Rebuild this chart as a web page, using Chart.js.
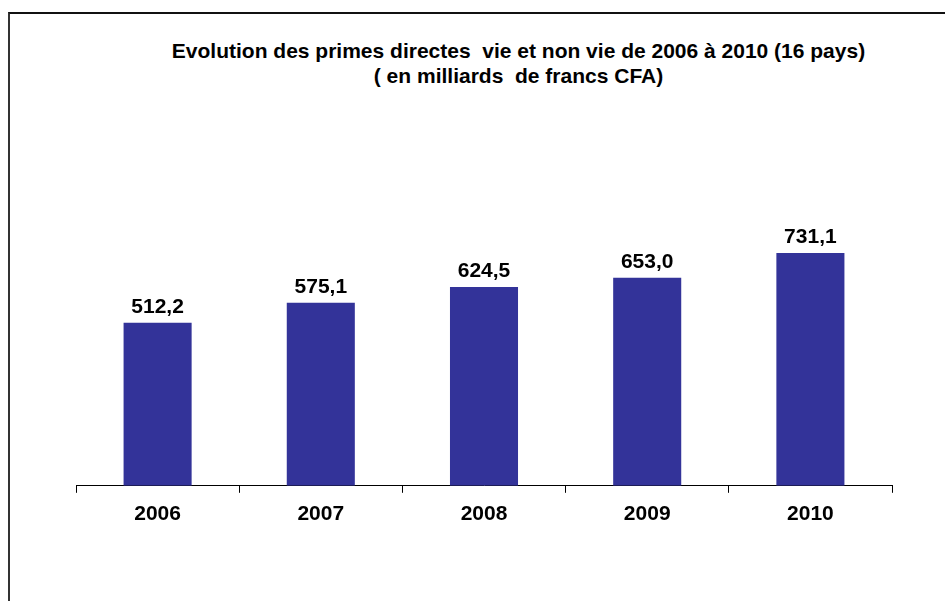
<!DOCTYPE html>
<html>
<head>
<meta charset="utf-8">
<script src="https://cdn.jsdelivr.net/npm/chart.js@4/dist/chart.umd.min.js"></script>
<style>
    body { margin: 0; background: #fff; }
    #wrap { position: relative; width: 945px; height: 601px; overflow: hidden; background: #fff; }
    #frame { position: absolute; left: 8px; top: 12px; right: -10px; bottom: -10px; border-top: 2px solid #111; border-left: 2px solid #333; }
    #title { position: absolute; left: 0; width: 1037px; top: 38px; text-align: center; font: bold 21px "Liberation Sans", Arial, sans-serif; line-height: 25px; color: #000; white-space: pre; }
    #chart { position: absolute; left: 0; top: 0; }
</style>
</head>
<body>
<div id="wrap">
    <div id="frame"></div>
    <div id="title">Evolution des primes directes  vie et non vie de 2006 à 2010 (16 pays)
( en milliards  de francs CFA)</div>
    <canvas id="chart" width="945" height="601"></canvas>
</div>
<script>
// data
const years = ['2006', '2007', '2008', '2009', '2010'];
const primes = [512.2, 575.1, 624.5, 653.0, 731.1];

// value labels above the bars
const valueLabels = {
    id: 'valueLabels',
    afterDatasetsDraw(chart) {
        const ctx = chart.ctx;
        const meta = chart.getDatasetMeta(0);
        ctx.save();
        ctx.font = 'bold 21px "Liberation Sans", Arial, sans-serif';
        ctx.fillStyle = '#000';
        ctx.textAlign = 'center';
        ctx.textBaseline = 'alphabetic';
        meta.data.forEach((bar, i) => {
            const txt = primes[i].toFixed(1).replace('.', ',');
            ctx.fillText(txt, bar.x, bar.y - 10);
        });
        ctx.restore();
    }
};

new Chart(document.getElementById('chart').getContext('2d'), {
    type: 'bar',
    data: {
        labels: years,
        datasets: [{
            data: primes,
            backgroundColor: '#333399',
            borderWidth: 0,
            barPercentage: 0.417,
            categoryPercentage: 1
        }]
    },
    options: {
        responsive: false,
        animation: false,
        layout: { padding: { left: 76, right: 53, top: 231, bottom: 65 } },
        plugins: {
            legend: { display: false },
            tooltip: { enabled: false }
        },
        scales: {
            y: { display: false, min: 0, max: 800 },
            x: {
                grid: { drawOnChartArea: false, drawTicks: true, tickLength: 7, color: '#000', offset: true },
                border: { display: true, color: '#000', width: 1 },
                ticks: {
                    color: '#000',
                    padding: 9,
                    font: { family: '"Liberation Sans", Arial, sans-serif', size: 21, weight: 'bold' }
                }
            }
        }
    },
    plugins: [valueLabels]
});
</script>
</body>
</html>
